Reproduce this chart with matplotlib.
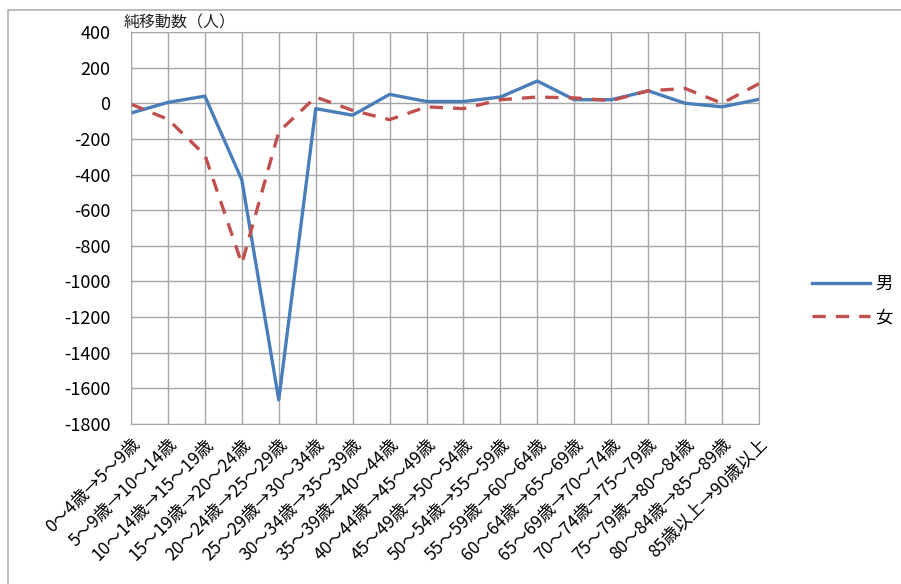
import numpy as np
import matplotlib.pyplot as plt
from matplotlib.patches import Rectangle

plt.rcParams['font.family'] = ['Noto Sans CJK JP', 'DejaVu Sans']
plt.rcParams['axes.unicode_minus'] = False

# data
ages = ['0～4歳→5～9歳', '5～9歳→10～14歳', '10～14歳→15～19歳', '15～19歳→20～24歳',
        '20～24歳→25～29歳', '25～29歳→30～34歳', '30～34歳→35～39歳', '35～39歳→40～44歳',
        '40～44歳→45～49歳', '45～49歳→50～54歳', '50～54歳→55～59歳', '55～59歳→60～64歳',
        '60～64歳→65～69歳', '65～69歳→70～74歳', '70～74歳→75～79歳', '75～79歳→80～84歳',
        '80～84歳→85～89歳', '85歳以上→90歳以上']
male = [-55, 5, 40, -430, -1665, -30, -67, 50, 10, 10, 35, 125, 20, 20, 70, 0, -20, 22]
female = [-5, -90, -290, -900, -160, 35, -40, -92, -20, -30, 20, 35, 30, 15, 70, 83, 0, 110]

fig = plt.figure(figsize=(9.01, 5.84), dpi=100)
# outer chart border
fig.patches.append(Rectangle((8/901, -0.1), 1.2, (584-10)/584 + 0.1, transform=fig.transFigure,
                             fill=False, edgecolor='#b0b0b0', linewidth=1.2))
ax = fig.add_axes([131/901, 160/584, 628/901, 392/584])

x = np.arange(len(ages))
ax.plot(x, male, color='#4a7ebb', linewidth=2.4, label='男', solid_joinstyle='round')
ax.plot(x, female, color='#c0504d', linewidth=2.4, linestyle=(0, (4, 3)), label='女')

ax.set_xlim(0, len(ages) - 1)
ax.set_ylim(-1800, 400)
ax.set_yticks(np.arange(-1800, 401, 200))
ax.set_xticks(x)
ax.set_xticklabels(ages, rotation=45, ha='right', va='top', rotation_mode='anchor', fontsize=12.5)
ax.tick_params(axis='y', labelsize=13, length=0, pad=15)
ax.tick_params(axis='x', length=0, pad=8)
ax.grid(True, color='#a6a6a6', linewidth=1)
ax.set_axisbelow(True)
for s in ax.spines.values():
    s.set_color('#a6a6a6')

ax.text(-0.2, 405, '純移動数（人）', fontsize=11.5, ha='left', va='bottom', color='#222222')

ax.legend(loc='center left', bbox_to_anchor=(1.06, 0.315), frameon=False, fontsize=12.5,
          handlelength=3.3, handletextpad=0.3, labelspacing=0.9)

plt.savefig('out.png', dpi=100)
